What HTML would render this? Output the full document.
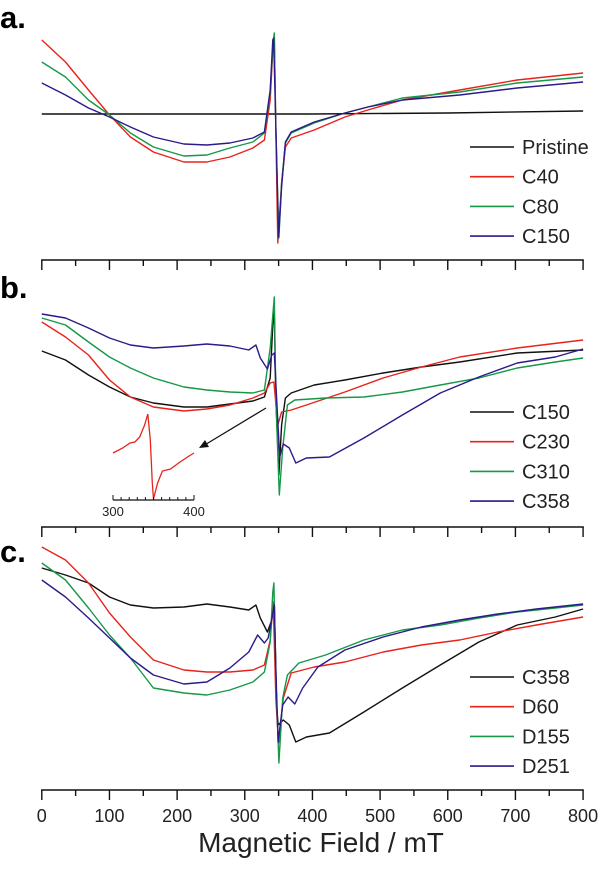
<!DOCTYPE html>
<html><head><meta charset="utf-8"><style>
html,body{margin:0;padding:0;background:#fff;}
svg{display:block;font-family:"Liberation Sans",Arial,sans-serif;}
</style></head><body>
<svg id="chart" width="600" height="896" viewBox="0 0 600 896">
<g id="axes"></g>
<g id="series"></g>
<text x="0" y="28" font-size="31" font-weight="bold">a.</text>
<text x="0" y="298" font-size="31" font-weight="bold">b.</text>
<text x="0" y="562" font-size="31" font-weight="bold">c.</text>
<text x="321" y="852" font-size="28" text-anchor="middle" fill="#222">Magnetic Field / mT</text>
<g id="legends"></g>
<g id="inset"></g>
</svg>
<script>
// ---- data (field in mT, intensity in a.u.) ----
const xTicks = [0,100,200,300,400,500,600,700,800];
const insetTicks = [300,400];
// Panel a
const aPristineX = [0,200,400,600,800];
const aPristineY = [0,0,0,1,3];
const aC40X = [0,35,69,100,131,165,210,244,278,312,329,337.5,341.4,343.7,346,348.8,354.4,360,368.6,402.6,448,482,533,617.7,702.6,800];
const aC40Y = [74,52,24,-1,-23,-38,-48,-48,-43,-34,-26,14,64,79,-19,-129,-69,-33,-24,-16,-3,4,14,24,34,41];
const aC80X = [0,35,69,100,131,165,210,244,278,312,329,337.5,341.4,343.7,346,350.5,354.4,360,368.6,402.6,448,482,533,617.7,702.6,800];
const aC80Y = [52,37,14,-1,-19,-33,-42,-41,-34,-28,-19,21,67,81,-19,-124,-69,-29,-19,-9,1,7,16,22,31,37];
const aC150X = [0,35,69,100,131,165,210,244,278,312,329,337.5,341.4,342.6,346,350,354.4,360,368.6,402.6,448,482,533,617.7,702.6,800];
const aC150Y = [31,19,6,-3,-13,-23,-30,-31,-29,-24,-18,24,74,76,-14,-123,-73,-28,-18,-8,1,7,14,19,26,32];
// Panel b
const bC150X = [0,35,69,100,131,165,210,244,278,312,329,337.5,341.4,343.7,346,350.5,354.4,360,368.6,402.6,448,504.5,561,617.7,702.6,800];
const bC150Y = [49,40,25,13,3,-3,-7,-7,-4,-1,3,22,75,88,0,-75,-25,2,7,15,20,27,33,38,47,50];
const bC230X = [0,35,69,100,131,165,210,244,278,312,329,337.5,343,348.8,354.4,368.6,391,448,504.5,561,617.7,702.6,800];
const bC230Y = [78,63,45,20,3,-7,-11,-9,-5,2,7,17,18,-25,-12,-10,-5,8,22,33,43,52,60];
const bC310X = [0,35,69,100,131,165,210,244,278,312,329,337.5,341.4,343.7,346,351,356,363,374,419.5,476,533,589,646,702.6,759,800];
const bC310Y = [82,75,58,43,32,22,13,10,8,7,10,52,85,103,0,-95,-48,-5,0,2,3,8,15,22,32,38,42];
const bC358X = [0,35,69,100,131,165,210,244,278,306,316.5,323,333.5,340,343.7,347,351.6,357,365.8,375.4,391,425,476,533,589,646,702.6,759,800];
const bC358Y = [86,82,72,62,55,52,54,56,54,50,55,42,31,45,47,2,-57,-44,-48,-63,-58,-57,-38,-15,7,23,37,43,51];
// Inset (C230 close-up, 300-400 mT)
const insetX = [300,312,321,327,333,339,343,346,348.5,350,355,361,371,381,392,400];
const insetY = [47,52,57,58,63,75,86,60,17,1,17,29,31,37,43,47];
// Panel c
const cC358X = [0,35,69,100,131,165,210,244,278,306,316.5,323,333.5,340,343.7,347,349.3,357,365.8,375.4,391,425,476,533,589,646,702.6,759,800];
const cC358Y = [132,125,117,103,95,92,93,96,93,90,95,82,68,80,98,-5,-25,-20,-25,-42,-37,-33,-12,12,35,58,75,83,91];
const cD60X = [0,35,69,100,131,165,210,244,278,312,329,337.5,342,346,350,357,368.6,402.6,448,504.5,561,617.7,674,731,800];
const cD60Y = [153,140,117,87,63,40,30,28,28,30,35,60,98,0,-43,2,27,33,38,48,55,60,68,75,83];
const cD155X = [0,35,69,100,131,165,210,244,278,312,329,337.5,341.4,343,346,350.5,356,363,380,419.5,476,533,589,646,702.6,759,800];
const cD155Y = [137,120,92,65,42,12,7,5,10,18,28,58,108,117,20,-63,2,25,37,45,60,70,75,82,88,92,95];
const cD251X = [0,35,69,100,131,165,210,244,278,306,319,329,334.6,343.7,346,349.3,356,364,374,385.6,408,448,504.5,561,617.7,674,731,800];
const cD251Y = [120,103,82,62,42,25,16,18,32,48,65,57,62,95,30,-42,-5,3,-4,12,33,50,63,73,80,86,91,96];

// ---- scales ----
const X0 = 41.8, XK = 0.6766;
function xs(v){ return X0 + v*XK; }
function ysA(v){ return 114 - v; }
function ysB(v){ return 400 - v; }
function ysC(v){ return 700 - v; }
const insX0 = 113, insK = 0.81;
function xsIn(v){ return insX0 + (v-300)*insK; }
function ysIn(v){ return 500 - v; }

const NS = 'http://www.w3.org/2000/svg';
const axesG = document.getElementById('axes');
const seriesG = document.getElementById('series');
const legG = document.getElementById('legends');
const insG = document.getElementById('inset');
const RED='#e8231b', GREEN='#169847', BLUE='#2b1a8a', BLACK='#111';

function mk(tag, attrs, parent){
  const e = document.createElementNS(NS, tag);
  for (const k in attrs) e.setAttribute(k, attrs[k]);
  parent.appendChild(e);
  return e;
}

// axes
const axisYs = [260, 527, 790];
const axisNames = ['panel-a-x-axis','panel-b-x-axis','panel-c-x-axis'];
axisYs.forEach(function(ay, i){
  const g = mk('g', {}, axesG);
  
  
  const ln = mk('line', {x1: xs(0)-0.7, x2: xs(800)+0.7, y1: ay, y2: ay, stroke:'#111', 'stroke-width':1.6}, g);
  
  
  for (let t = 0; t <= 800; t += 50) {
    const major = (t % 100 === 0);
    const tk = mk('line', {x1: xs(t), x2: xs(t), y1: ay, y2: ay + (major ? 10 : 6), stroke:'#111', 'stroke-width':1.4}, g);
    
    
  }
  if (i === 2) {
    xTicks.forEach(function(t){
      const tx = mk('text', {x: xs(t), y: 822, 'font-size': 18, 'text-anchor':'middle', fill:'#222'}, g);
      tx.textContent = String(t);
      
      
    });
  }
});

function drawSeries(xArr, yArr, yfun, color, name, xf){
  const f = xf || xs;
  const pts = xArr.map(function(v, i){ return f(v).toFixed(1) + ',' + yfun(yArr[i]).toFixed(1); }).join(' ');
  const p = mk('polyline', {points: pts, fill:'none', stroke: color, 'stroke-width': 1.4, 'stroke-linejoin':'round'}, seriesG);
  
  
  return p;
}

// panel a
drawSeries(aPristineX, aPristineY, ysA, BLACK, 'series-a-pristine');
drawSeries(aC40X, aC40Y, ysA, RED, 'series-a-c40');
drawSeries(aC80X, aC80Y, ysA, GREEN, 'series-a-c80');
drawSeries(aC150X, aC150Y, ysA, BLUE, 'series-a-c150');
// panel b
drawSeries(bC150X, bC150Y, ysB, BLACK, 'series-b-c150');
drawSeries(bC230X, bC230Y, ysB, RED, 'series-b-c230');
drawSeries(bC310X, bC310Y, ysB, GREEN, 'series-b-c310');
drawSeries(bC358X, bC358Y, ysB, BLUE, 'series-b-c358');
// panel c
drawSeries(cC358X, cC358Y, ysC, BLACK, 'series-c-c358');
drawSeries(cD60X, cD60Y, ysC, RED, 'series-c-d60');
drawSeries(cD155X, cD155Y, ysC, GREEN, 'series-c-d155');
drawSeries(cD251X, cD251Y, ysC, BLUE, 'series-c-d251');

// inset
(function(){
  const pts = insetX.map(function(v, i){ return xsIn(v).toFixed(1) + ',' + ysIn(insetY[i]).toFixed(1); }).join(' ');
  const p = mk('polyline', {points: pts, fill:'none', stroke: RED, 'stroke-width': 1.3}, insG);
  
  
  const al = mk('line', {x1: xsIn(300), x2: xsIn(400), y1: 500, y2: 500, stroke:'#111', 'stroke-width':1.2}, insG);
  
  
  for (let t = 300; t <= 400; t += 10) {
    const major = (t === 300 || t === 400);
    const tk = mk('line', {x1: xsIn(t), x2: xsIn(t), y1: 500, y2: 500 - (major ? 5 : 3), stroke:'#111', 'stroke-width':1}, insG);
    
    
  }
  insetTicks.forEach(function(t){
    const tx = mk('text', {x: xsIn(t), y: 516, 'font-size': 13, 'text-anchor':'middle', fill:'#222'}, insG);
    tx.textContent = String(t);
    
    
  });
  const ar = mk('line', {x1: 266, y1: 408, x2: 203, y2: 446, stroke:'#111', 'stroke-width':1.2}, insG);
  
  
  const ah = mk('polygon', {points: '199,448 205,440 209,447', fill:'#111'}, insG);
  
  
})();

// legends
const legA = ['Pristine','C40','C80','C150'];
const legB = ['C150','C230','C310','C358'];
const legC = ['C358','D60','D155','D251'];
const legColors = [BLACK, RED, GREEN, BLUE];
function drawLegend(labels, y0, pname){
  labels.forEach(function(lab, i){
    const y = y0 + i*29.7;
    const g = mk('g', {}, legG);
    
    
    mk('line', {x1: 470, x2: 514, y1: y, y2: y, stroke: legColors[i], 'stroke-width': 1.6}, g);
    const t = mk('text', {x: 522, y: y + 7, 'font-size': 20, fill:'#222'}, g);
    t.textContent = lab;
  });
}
drawLegend(legA, 147, 'panel-a');
drawLegend(legB, 412, 'panel-b');
drawLegend(legC, 677, 'panel-c');
</script>
</body></html>
